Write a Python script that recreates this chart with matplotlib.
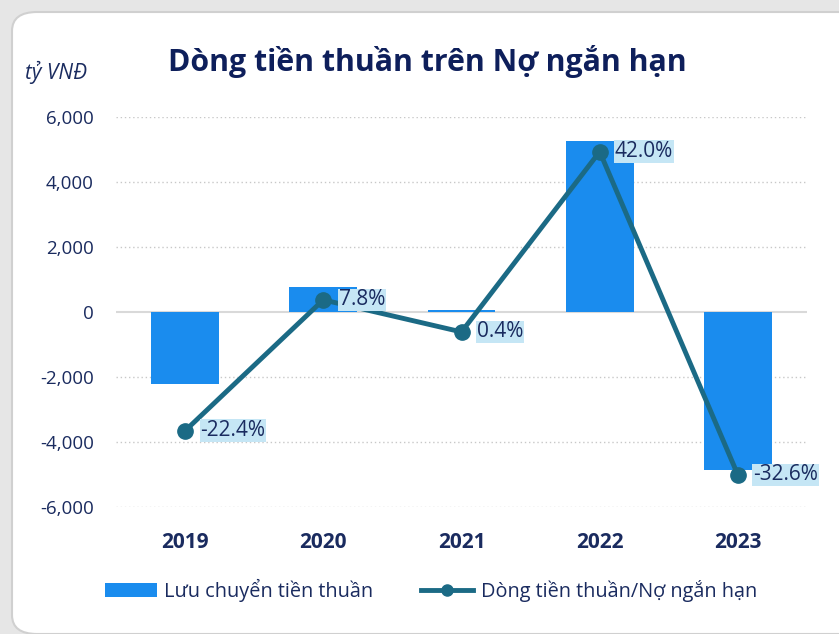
import matplotlib
matplotlib.use("Agg")
import matplotlib.pyplot as plt
from matplotlib.patches import FancyBboxPatch
from matplotlib.lines import Line2D
from matplotlib.patches import Patch

years = ["2019", "2020", "2021", "2022", "2023"]
net_cash_flow = [-2200, 770, 50, 5260, -4860]
ratio_pct = [-22.4, 7.8, 0.4, 42.0, -32.6]
ratio_labels = ["-22.4%", "7.8%", "0.4%", "42.0%", "-32.6%"]
yticks = [-6000, -4000, -2000, 0, 2000, 4000, 6000]

plt.rcParams['font.family'] = ['Open Sans', 'DejaVu Sans']
navy = "#1A2B5F"
bar_c = "#1A8CEE"
line_c = "#1B6A85"

fig = plt.figure(figsize=(8.39, 6.34), dpi=100)
fig.patch.set_facecolor("#E6E6E6")
card = FancyBboxPatch((12/839, 0.0), 1.2, 1 - 12/634, boxstyle="round,pad=0,rounding_size=0.03",
                      transform=fig.transFigure, facecolor="white", edgecolor="#D0D0D0", lw=1.5, zorder=-10)
fig.patches.append(card)

ax = fig.add_axes([116/839, 1 - 507/634, (807 - 116)/839, (507 - 117)/634])
ax.set_facecolor("none")
x = list(range(len(years)))
ax.bar(x, net_cash_flow, width=0.49, color=bar_c, zorder=2)
ax.set_xlim(-0.5, 4.5)
ax.set_ylim(-6000, 6000)
ax.set_yticks(yticks)
ax.set_yticklabels([f"{v:,}" for v in yticks], color=navy, fontsize=13.5)
ax.set_xticks(x)
ax.set_xticklabels(years, color=navy, fontsize=15, fontweight="bold")
ax.tick_params(axis="y", length=0, pad=16)
ax.tick_params(axis="x", length=0, pad=18)
for s in ax.spines.values():
    s.set_visible(False)
for v in yticks:
    if v == 0:
        ax.axhline(0, color="#D9D9D9", lw=1.5, zorder=1)
    else:
        ax.axhline(v, color="#C8C8C8", lw=1, ls=(0, (1, 2)), zorder=1)

ax2 = ax.twinx()
ax2.set_ylim(-40, 50)
ax2.axis("off")
ax2.plot(x, ratio_pct, color=line_c, lw=3.5, marker="o", markersize=11, zorder=3)
for xi, yi, lab in zip(x, ratio_pct, ratio_labels):
    ax2.annotate(lab, (xi, yi), xytext=(11, 0), textcoords="offset points",
                 ha="left", va="center", fontsize=15, color=navy,
                 bbox=dict(boxstyle="square,pad=0.04", facecolor="#C5E6F5", edgecolor="none"))

fig.text(168/839, 1 - 62/634, "Dòng tiền thuần trên Nợ ngắn hạn", fontsize=21.8,
         fontweight="bold", color="#0E1F5B", va="center", ha="left")
fig.text(25/839, 1 - 72/634, "tỷ VNĐ", fontsize=15, style="italic", color=navy, va="center", ha="left")

handles = [Patch(facecolor=bar_c, edgecolor="none"),
           Line2D([0], [0], color=line_c, lw=3.5, marker="o", markersize=8)]
fig.legend(handles, ["Lưu chuyển tiền thuần", "Dòng tiền thuần/Nợ ngắn hạn"],
           loc="center", bbox_to_anchor=(431/839, 1 - 590/634), ncol=2, frameon=False,
           fontsize=14.3, labelcolor=navy, handlelength=2.6, columnspacing=2.4, handletextpad=0.4)

fig.savefig("out.png", dpi=100, facecolor=fig.get_facecolor())
